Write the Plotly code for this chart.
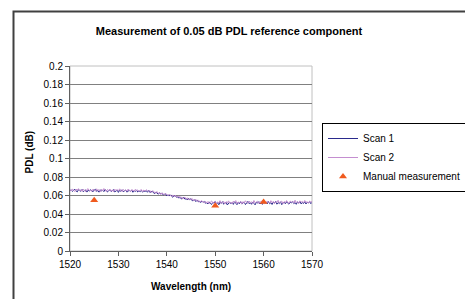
import plotly.graph_objects as go

# ---- data (wavelength in nm, PDL in dB) ----
scan1 = [
    0.0652, 0.0661, 0.0644, 0.0657, 0.0668, 0.0649, 0.0639, 0.0663, 0.0655, 0.0646,
    0.0666, 0.0641, 0.0653, 0.0660, 0.0637, 0.0658, 0.0647, 0.0664, 0.0651, 0.0640,
    0.0659, 0.0667, 0.0645, 0.0654, 0.0636, 0.0662, 0.0648, 0.0657, 0.0642, 0.0665,
    0.0650, 0.0638, 0.0656, 0.0661, 0.0643, 0.0653, 0.0663, 0.0639, 0.0649, 0.0658,
    0.0634, 0.0655, 0.0646, 0.0662, 0.0641, 0.0651, 0.0659, 0.0637, 0.0648, 0.0656,
    0.0643, 0.0660, 0.0635, 0.0652, 0.0645, 0.0657, 0.0638, 0.0650, 0.0641, 0.0655,
    0.0636, 0.0649, 0.0644, 0.0653, 0.0635,
    0.0653, 0.0633, 0.0643, 0.0648, 0.0629, 0.0620, 0.0636, 0.0629, 0.0614, 0.0631,
    0.0615, 0.0628, 0.0606, 0.0612, 0.0619, 0.0595, 0.0608, 0.0594, 0.0607, 0.0593,
    0.0581, 0.0596, 0.0599, 0.0580, 0.0585, 0.0571, 0.0585, 0.0562, 0.0576, 0.0580,
    0.0560, 0.0567, 0.0551, 0.0568, 0.0555, 0.0566, 0.0543, 0.0545, 0.0553, 0.0534,
    0.0552, 0.0532, 0.0538, 0.0524, 0.0539, 0.0525, 0.0535, 0.0516,
    0.0522, 0.0508, 0.0531, 0.0514, 0.0503, 0.0526, 0.0519, 0.0535, 0.0509, 0.0521,
    0.0500, 0.0528, 0.0513, 0.0533, 0.0506, 0.0518, 0.0527, 0.0498, 0.0515, 0.0530,
    0.0511, 0.0524, 0.0504, 0.0532, 0.0516, 0.0501, 0.0525, 0.0510, 0.0534, 0.0507,
    0.0520, 0.0529, 0.0502, 0.0517, 0.0536, 0.0512, 0.0523, 0.0505, 0.0530, 0.0514,
    0.0499, 0.0527, 0.0518, 0.0533, 0.0508, 0.0521, 0.0504, 0.0531, 0.0515, 0.0526,
    0.0509, 0.0535, 0.0511, 0.0522, 0.0503, 0.0529, 0.0517, 0.0537, 0.0506, 0.0524,
    0.0513, 0.0532, 0.0501, 0.0520, 0.0528, 0.0510, 0.0534, 0.0516, 0.0507, 0.0530,
    0.0519, 0.0538, 0.0512, 0.0525, 0.0505, 0.0531, 0.0518, 0.0536, 0.0509, 0.0523,
    0.0514, 0.0533, 0.0508, 0.0527, 0.0520, 0.0535, 0.0512, 0.0526,
]

scan2 = [
    0.0664, 0.0648, 0.0671, 0.0655, 0.0642, 0.0668, 0.0659, 0.0674, 0.0650, 0.0662,
    0.0645, 0.0670, 0.0656, 0.0641, 0.0666, 0.0673, 0.0652, 0.0660, 0.0644, 0.0669,
    0.0657, 0.0647, 0.0672, 0.0654, 0.0663, 0.0640, 0.0667, 0.0651, 0.0675, 0.0658,
    0.0643, 0.0665, 0.0653, 0.0670, 0.0646, 0.0661, 0.0639, 0.0668, 0.0655, 0.0664,
    0.0649, 0.0672, 0.0657, 0.0642, 0.0666, 0.0651, 0.0660, 0.0645, 0.0669, 0.0654,
    0.0640, 0.0663, 0.0658, 0.0647, 0.0667, 0.0650, 0.0661, 0.0643, 0.0656, 0.0664,
    0.0641, 0.0659, 0.0648, 0.0662, 0.0652,
    0.0643, 0.0656, 0.0633, 0.0645, 0.0648, 0.0628, 0.0631, 0.0643, 0.0621, 0.0631,
    0.0611, 0.0628, 0.0621, 0.0606, 0.0624, 0.0606, 0.0597, 0.0612, 0.0604, 0.0589,
    0.0606, 0.0589, 0.0604, 0.0581, 0.0586, 0.0594, 0.0572, 0.0585, 0.0564, 0.0577,
    0.0582, 0.0562, 0.0574, 0.0553, 0.0566, 0.0555, 0.0567, 0.0544, 0.0551, 0.0558,
    0.0538, 0.0548, 0.0529, 0.0541, 0.0544, 0.0527, 0.0521, 0.0538,
    0.0519, 0.0535, 0.0512, 0.0529, 0.0541, 0.0516, 0.0524, 0.0538, 0.0510, 0.0531,
    0.0522, 0.0544, 0.0514, 0.0527, 0.0536, 0.0509, 0.0533, 0.0520, 0.0542, 0.0517,
    0.0528, 0.0511, 0.0539, 0.0525, 0.0545, 0.0513, 0.0530, 0.0521, 0.0537, 0.0508,
    0.0534, 0.0518, 0.0543, 0.0526, 0.0515, 0.0540, 0.0523, 0.0532, 0.0512, 0.0546,
    0.0520, 0.0529, 0.0538, 0.0514, 0.0535, 0.0524, 0.0547, 0.0516, 0.0531, 0.0510,
    0.0541, 0.0527, 0.0519, 0.0544, 0.0522, 0.0536, 0.0513, 0.0533, 0.0526, 0.0548,
    0.0517, 0.0530, 0.0539, 0.0511, 0.0534, 0.0521, 0.0545, 0.0525, 0.0515, 0.0540,
    0.0528, 0.0537, 0.0518, 0.0549, 0.0523, 0.0532, 0.0514, 0.0542, 0.0527, 0.0536,
    0.0520, 0.0546, 0.0524, 0.0533, 0.0516, 0.0539, 0.0529, 0.0535,
]

wavelength1 = [1520 + 0.25 * i for i in range(len(scan1))]
wavelength2 = [1520 + 0.25 * i for i in range(len(scan2))]

manual_wl = [1525, 1550, 1560]
manual_pdl = [0.055, 0.049, 0.053]

x_ticks = [1520, 1530, 1540, 1550, 1560, 1570]
y_ticks = [0, 0.02, 0.04, 0.06, 0.08, 0.1, 0.12, 0.14, 0.16, 0.18, 0.2]
y_tick_labels = ["0", "0.02", "0.04", "0.06", "0.08", "0.1", "0.12", "0.14", "0.16", "0.18", "0.2"]

FONT = "Arial, Liberation Sans, sans-serif"

fig = go.Figure()
fig.add_trace(go.Scatter(x=wavelength1, y=scan1, mode="lines", name="Scan 1",
                         line=dict(color="#2a2a8c", width=1)))
fig.add_trace(go.Scatter(x=wavelength2, y=scan2, mode="lines", name="Scan 2",
                         line=dict(color="#c48ed0", width=1)))
fig.add_trace(go.Scatter(x=manual_wl, y=manual_pdl, mode="markers", name="Manual measurement",
                         marker=dict(symbol="triangle-up", color="#f05a1e", size=7)))

L, R, T, B = 70, 312, 66, 251
W, H = 465, 299

fig.update_layout(
    width=W, height=H,
    margin=dict(l=L, r=W - R, t=T, b=H - B, pad=0, autoexpand=False),
    paper_bgcolor="white", plot_bgcolor="white",
    font=dict(family=FONT, size=10, color="#000000"),
    showlegend=True,
    legend=dict(
        x=(322 - L) / (R - L), y=(B - 157.5) / (B - T), xanchor="left", yanchor="middle",
        bordercolor="#000000", borderwidth=1, bgcolor="white",
        font=dict(family=FONT, size=10, color="#000000"),
        tracegroupgap=0, itemwidth=30,
    ),
    title=dict(text="<b>Measurement of 0.05 dB PDL reference component</b>",
               xref="container", x=229 / W, xanchor="center",
               yref="container", y=1 - 31 / H, yanchor="middle",
               font=dict(family=FONT, size=11, color="#000000")),
)

fig.update_xaxes(
    range=[1520, 1570], tickvals=x_ticks, ticktext=[str(v) for v in x_ticks],
    showgrid=False, zeroline=False,
    showline=True, linecolor="#606060", linewidth=1,
    ticks="outside", ticklen=4, tickcolor="#606060",
    tickfont=dict(family=FONT, size=10, color="#000000"),
)
fig.update_yaxes(
    range=[0, 0.2], tickvals=y_ticks, ticktext=y_tick_labels,
    showgrid=True, gridcolor="#808080", gridwidth=1, zeroline=False,
    showline=True, linecolor="#606060", linewidth=1,
    ticks="outside", ticklen=4, tickcolor="#606060",
    tickfont=dict(family=FONT, size=10, color="#000000"),
)

# plot-area border (light grey, top and right visible)
fig.add_shape(type="rect", xref="paper", yref="paper", x0=0, x1=1, y0=0, y1=1,
              line=dict(color="#c0c0c0", width=1), layer="below")
# outer chart border (extends beyond the visible window)
fig.add_shape(type="rect", xref="paper", yref="paper",
              x0=(13.5 - L) / (R - L), x1=(480 - L) / (R - L),
              y0=(B - 320) / (B - T), y1=(B - 11.5) / (B - T),
              line=dict(color="#404040", width=2), layer="above")

fig.add_annotation(text="<b>Wavelength (nm)</b>", xref="paper", yref="paper",
                   x=0.5, y=(B - 286) / (B - T), xanchor="center", yanchor="middle",
                   showarrow=False, font=dict(family=FONT, size=10, color="#000000"))
fig.add_annotation(text="<b>PDL (dB)</b>", xref="paper", yref="paper",
                   x=(28.5 - L) / (R - L), y=(B - 152) / (B - T),
                   xanchor="center", yanchor="middle", textangle=-90,
                   showarrow=False, font=dict(family=FONT, size=10, color="#000000"))

fig.write_html("out.html",
               config={"displayModeBar": False},
               post_script="document.body.style.margin='0';document.body.style.overflow='hidden';")
